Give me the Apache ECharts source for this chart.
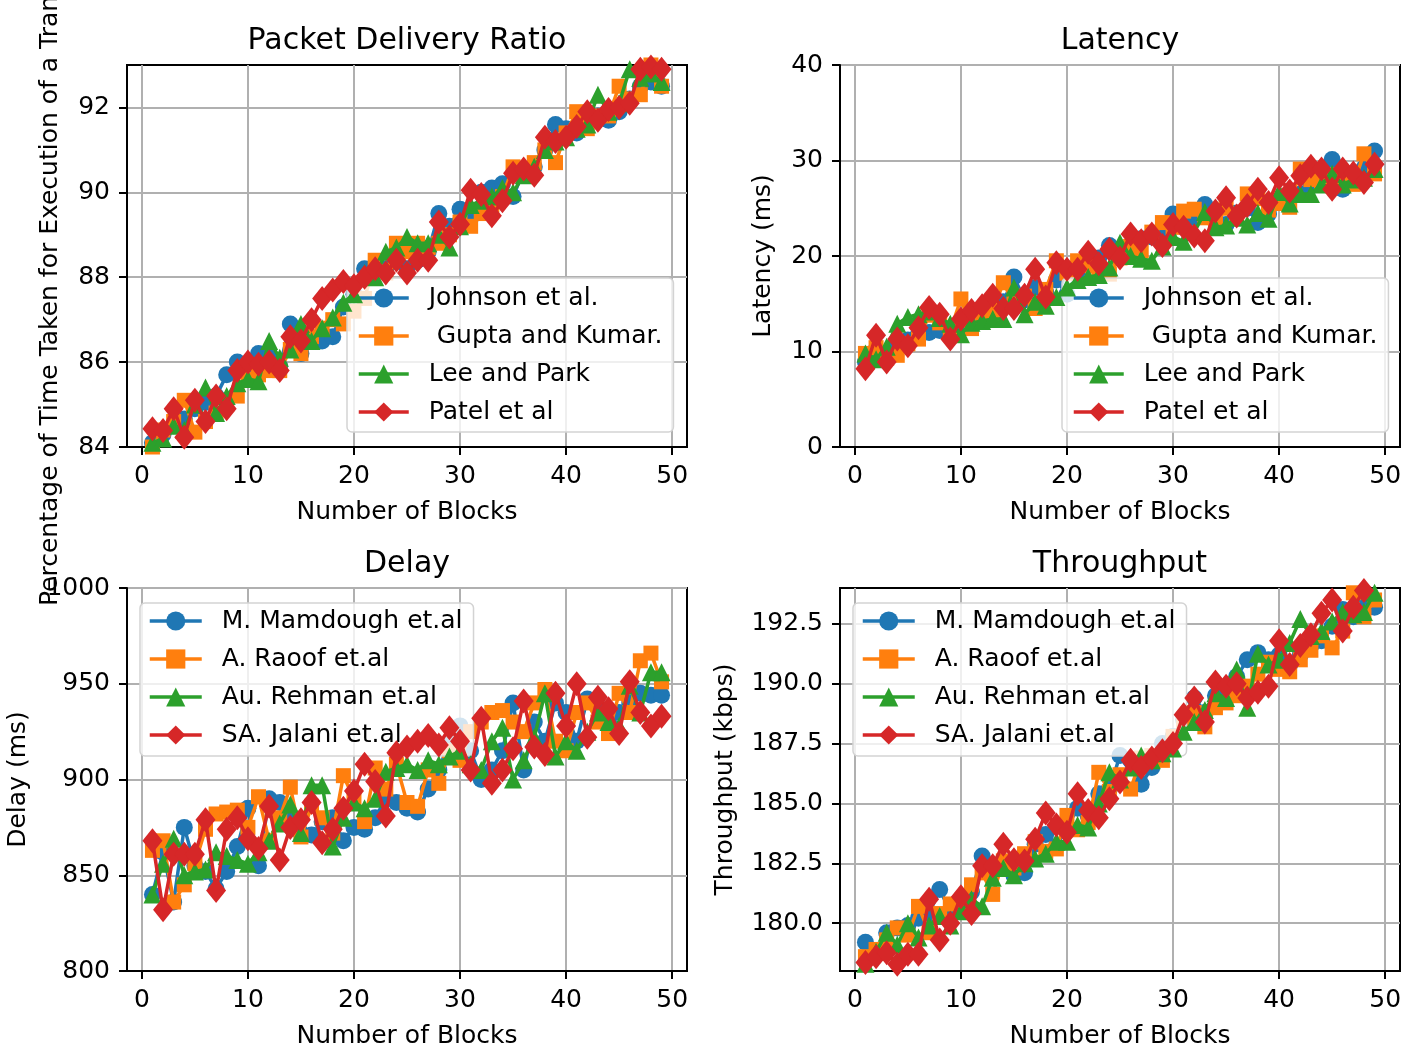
<!DOCTYPE html>
<html lang="en">
  <head>
    <meta charset="UTF-8" />
    <title>Blockchain metrics</title>
    <script src="https://cdn.jsdelivr.net/npm/echarts@6/dist/echarts.min.js"></script>
    <style>
      html, body { margin: 0; padding: 0; background: #fff; }
      #chart { width: 1415px; height: 1050px; }
    </style>
  </head>
  <body>
    <div id="chart"></div>
    <script>
      // x values (number of blocks)
      const blocks = [1, 2, 3, 4, 5, 6, 7, 8, 9, 10, 11, 12, 13, 14, 15, 16, 17, 18, 19, 20, 21, 22, 23, 24, 25,
        26, 27, 28, 29, 30, 31, 32, 33, 34, 35, 36, 37, 38, 39, 40, 41, 42, 43, 44, 45, 46, 47, 48, 49];

      const xTicks = [0, 10, 20, 30, 40, 50];
      const pdrTicks = [84, 86, 88, 90, 92];
      const latTicks = [0, 10, 20, 30, 40];
      const delayTicks = [800, 850, 900, 950, 1000];
      const thrTicks = [180, 182.5, 185, 187.5, 190, 192.5];

      const topNames = ['Johnson et al.', ' Gupta and Kumar.', 'Lee and Park', 'Patel et al'];
      const bottomNames = ['M. Mamdough et.al', 'A. Raoof et.al', 'Au. Rehman et.al', 'SA. Jalani et.al'];

      // Packet Delivery Ratio
      const pdrJohnson = [84.1, 84.3, 84.5, 84.66, 84.9, 85.05, 85.2, 85.7, 86.0, 85.9, 86.2, 86.1, 85.9, 86.9, 86.2,
        86.5, 86.5, 86.6, 87.3, 87.6, 88.2, 88.2, 88.2, 88.5, 88.2, 88.4, 88.6, 89.5, 89.2, 89.6, 89.4, 90.0, 90.1,
        90.2, 89.9, 90.5, 90.6, 91.0, 91.6, 91.5, 91.4, 91.7, 91.8, 91.7, 91.9, 92.2, 92.5, 92.6, 92.5];
      const pdrGupta = [84.0, 84.4, 84.6, 85.1, 84.35, 84.6, 84.8, 85.0, 85.2, 85.6, 85.7, 85.8, 85.8, 86.3, 86.2,
        86.6, 86.8, 87.0, 86.9, 87.2, 87.5, 88.4, 88.1, 88.8, 88.6, 88.8, 88.7, 88.8, 89.0, 89.3, 89.2, 89.5, 89.7,
        89.9, 90.6, 90.5, 90.7, 91.0, 90.7, 91.4, 91.9, 91.5, 91.8, 91.8, 92.5, 92.2, 92.3, 93.0, 92.5];
      const pdrLee = [84.1, 84.2, 84.5, 84.4, 85.0, 85.4, 84.8, 85.2, 85.5, 85.6, 85.55, 86.5, 86.1, 86.3, 86.9,
        86.5, 86.8, 87.05, 87.4, 87.6, 88.1, 88.0, 88.6, 88.7, 88.95, 88.8, 88.8, 89.0, 88.7, 89.2, 89.7, 89.8, 89.9,
        90.1, 90.0, 90.4, 90.6, 91.0, 91.2, 91.3, 91.5, 91.6, 92.3, 91.9, 92.1, 92.9, 92.7, 92.8, 92.6];
      const pdrPatel = [84.43, 84.39, 84.9, 84.23, 85.1, 84.6, 85.2, 84.9, 85.8, 86.0, 85.95, 86.0, 85.8, 86.6, 86.5,
        87.0, 87.5, 87.7, 87.9, 87.8, 88.0, 88.2, 88.1, 88.4, 88.1, 88.4, 88.4, 89.3, 88.95, 89.25, 90.05, 89.95, 89.45,
        89.8, 90.45, 90.55, 90.4, 91.3, 91.2, 91.3, 91.55, 91.9, 91.7, 91.95, 92.0, 92.1, 92.9, 92.95, 92.9];

      // Latency (ms)
      const latJohnson = [8.9, 10.2, 9.4, 10.5, 11.2, 11.8, 12.0, 12.2, 11.6, 12.8, 13.5, 14.0, 14.6, 15.2, 17.8,
        15.4, 16.7, 16.2, 17.5, 16.0, 18.4, 19.0, 19.8, 21.1, 20.5, 21.0, 21.8, 22.0, 22.5, 24.4, 23.8, 24.0, 25.4,
        24.6, 23.3, 24.5, 25.0, 23.5, 24.4, 25.6, 26.0, 26.5, 27.3, 28.2, 30.1, 27.0, 28.6, 29.2, 31.0];
      const latGupta = [9.8, 10.4, 9.3, 9.6, 10.8, 11.3, 13.8, 13.0, 12.2, 15.5, 12.4, 13.8, 14.2, 17.2, 15.0,
        15.8, 14.5, 16.5, 19.5, 18.2, 19.5, 19.0, 18.7, 18.1, 19.8, 21.0, 20.5, 22.5, 23.5, 23.0, 24.7, 24.9, 24.0,
        23.8, 25.0, 24.2, 26.5, 26.0, 24.8, 25.5, 25.1, 29.1, 28.0, 27.5, 28.5, 28.0, 27.5, 30.7, 28.6];
      const latLee = [9.8, 9.2, 10.5, 12.9, 13.6, 13.9, 14.2, 13.5, 12.9, 11.8, 13.0, 13.2, 13.4, 13.4, 16.7,
        13.9, 15.2, 14.8, 15.7, 16.7, 17.5, 17.8, 18.0, 18.8, 21.4, 20.0, 19.7, 19.5, 21.0, 22.0, 21.5, 22.5, 24.6,
        23.0, 23.2, 24.0, 23.3, 24.5, 23.9, 26.7, 25.5, 26.5, 26.5, 27.5, 28.6, 27.5, 28.0, 28.2, 29.1];
      const latPatel = [8.2, 11.7, 8.9, 11.3, 10.6, 12.5, 14.6, 13.9, 11.3, 13.4, 14.3, 14.8, 15.9, 14.5, 14.5,
        15.9, 18.6, 15.7, 19.3, 18.6, 18.6, 20.4, 19.2, 20.7, 19.8, 22.3, 21.6, 22.3, 21.1, 23.3, 23.0, 22.1, 21.6,
        24.7, 26.1, 24.2, 25.3, 27.0, 25.6, 28.2, 26.8, 28.4, 29.4, 29.1, 27.0, 29.1, 28.7, 27.7, 29.6];

      // Delay (ms)
      const delMamdough = [840, 862, 836, 875, 855, 852, 843, 852, 865, 885, 855, 890, 888, 880, 872, 871, 878, 880,
        868, 875, 874, 880, 890, 888, 885, 883, 895, 905, 920, 928, 915, 900, 905, 915, 940, 905, 930, 920, 940, 935,
        920, 942, 938, 930, 935, 940, 945, 944, 944];
      const delRaoof = [863, 868, 836, 845, 856, 874, 882, 883, 884, 875, 891, 868, 880, 896, 870, 886, 880, 872,
        902, 890, 878, 906, 895, 908, 888, 886, 905, 898, 915, 910, 925, 930, 935, 936, 930, 925, 940, 947, 920, 915,
        935, 940, 930, 924, 945, 935, 962, 966, 951];
      const delRehman = [840, 856, 869, 850, 852, 853, 862, 860, 858, 856, 862, 868, 877, 887, 872, 897, 897, 865,
        880, 888, 885, 890, 904, 906, 908, 905, 910, 908, 912, 915, 908, 905, 920, 927, 900, 910, 922, 945, 912, 920,
        915, 925, 935, 930, 928, 949, 935, 956, 956];
      const delJalani = [868, 832, 861, 861, 861, 879, 842, 874, 880, 869, 864, 886, 858, 875, 879, 888, 867, 874,
        885, 894, 908, 899, 881, 914, 917, 920, 923, 918, 927, 920, 905, 932, 898, 905, 916, 941, 917, 913, 945, 928,
        950, 922, 943, 937, 924, 951, 935, 928, 933];

      // Throughput (kbps)
      const thrMamdough = [179.2, 178.7, 179.6, 179.8, 179.9, 180.2, 180.4, 181.4, 180.5, 181.0, 181.3, 182.8, 182.3,
        182.5, 182.0, 182.1, 183.3, 183.7, 183.2, 184.0, 184.8, 184.5, 185.4, 185.6, 187.0, 186.8, 185.8, 186.5, 187.5,
        187.8, 188.5, 189.4, 188.8, 189.5, 189.8, 190.3, 191.0, 191.3, 191.0, 191.2, 190.8, 191.2, 191.6, 191.8, 192.4,
        193.1, 192.8, 193.4, 193.2];
      const thrRaoof = [178.6, 178.9, 179.3, 179.8, 179.5, 180.7, 179.6, 180.4, 180.8, 180.6, 181.6, 182.1, 181.2,
        182.6, 182.3, 182.9, 183.4, 183.0, 183.1, 184.5, 183.9, 184.2, 186.3, 185.5, 186.2, 185.6, 186.9, 187.0, 186.8,
        187.8, 188.4, 188.8, 188.2, 189.0, 189.2, 189.5, 189.9, 190.4, 190.9, 190.6, 190.5, 191.0, 191.4, 192.0, 191.5,
        192.2, 193.8, 192.8, 193.5];
      const thrRehman = [178.3, 178.8, 179.6, 179.1, 180.0, 179.4, 179.9, 180.3, 179.9, 180.5, 181.0, 180.7, 181.9,
        182.3, 182.0, 182.5, 182.7, 182.9, 183.4, 183.4, 184.1, 184.0, 185.0, 186.3, 186.0, 186.5, 187.0, 186.8, 187.1,
        187.3, 188.0, 188.4, 188.9, 189.6, 189.4, 190.6, 189.0, 191.25, 190.8, 191.0, 191.7, 192.7, 192.0, 192.2, 192.6,
        193.0, 192.9, 193.0, 193.8];
      const thrJalani = [178.35, 178.6, 178.76, 178.28, 178.7, 178.7, 181.0, 179.3, 180.0, 181.1, 180.4, 182.4, 182.4,
        183.3, 182.65, 182.6, 183.5, 184.6, 184.1, 183.8, 185.4, 184.7, 184.4, 185.2, 185.9, 186.8, 186.5, 186.9, 187.2,
        187.5, 188.7, 189.4, 188.4, 190.07, 189.9, 190.0, 189.4, 189.65, 189.9, 191.8, 190.8, 191.6, 192.05, 192.95,
        193.5, 192.2, 193.2, 193.9, 194.3];

      const colors = ['#1f77b4', '#ff7f0e', '#2ca02c', '#d62728'];
      const symbols = ['circle', 'rect', 'triangle', 'diamond'];
      const symbolSizes = [17, 15, 18, [20, 25]];
      const font = 'DejaVu Sans';

      const panels = [
        { title: 'Packet Delivery Ratio', names: topNames, data: [pdrJohnson, pdrGupta, pdrLee, pdrPatel],
          min: 84, max: 93, ticks: pdrTicks, digits: 0,
          yName: 'Percentage of Time Taken for Execution of a Transaction', yGap: 64,
          grid: { left: 127, top: 65 }, legend: { left: 347, top: 278, pad: [6, 11, 6, 10], w: 50 } },
        { title: 'Latency', names: topNames, data: [latJohnson, latGupta, latLee, latPatel],
          min: 0, max: 40, ticks: latTicks, digits: 0, yName: 'Latency (ms)', yGap: 64,
          grid: { left: 840, top: 65 }, legend: { left: 1062, top: 278, pad: [6, 11, 6, 10], w: 50 } },
        { title: 'Delay', names: bottomNames, data: [delMamdough, delRaoof, delRehman, delJalani],
          min: 800, max: 1000, ticks: delayTicks, digits: 0, yName: 'Delay (ms)', yGap: 96,
          grid: { left: 127, top: 588 }, legend: { left: 140, top: 603, pad: [4, 11, 7, 8], w: 52 } },
        { title: 'Throughput', names: bottomNames, data: [thrMamdough, thrRaoof, thrRehman, thrJalani],
          min: 178, max: 194, ticks: thrTicks, digits: 1, yName: 'Throughput (kbps)', yGap: 102,
          grid: { left: 840, top: 588 }, legend: { left: 853, top: 603, pad: [4, 11, 7, 8], w: 52 } }
      ];

      const axisText = { fontFamily: font, fontSize: 25, color: '#000' };

      const option = {
        animation: false,
        textStyle: { fontFamily: font },
        title: [],
        grid: [],
        xAxis: [],
        yAxis: [],
        legend: [],
        series: []
      };

      panels.forEach((p, i) => {
        option.title.push({
          text: p.title,
          left: p.grid.left + 280,
          top: p.grid.top - 39,
          textAlign: 'center',
          padding: 0,
          textStyle: { fontFamily: font, fontSize: 30, fontWeight: 'normal', color: '#000' }
        });
        option.grid.push({
          left: p.grid.left, top: p.grid.top, width: 560, height: i < 2 ? 382 : 383,
          outerBoundsMode: 'none', containLabel: false,
          show: true, borderColor: '#000', borderWidth: 2, backgroundColor: '#fff'
        });
        option.xAxis.push({
          type: 'value', gridIndex: i, min: -1.4, max: 51.4,
          name: 'Number of Blocks', nameLocation: 'middle', nameGap: 53, nameTextStyle: axisText,
          axisLine: { show: true, onZero: false, lineStyle: { color: '#000', width: 2 } },
          axisTick: { show: true, length: 8, customValues: xTicks, lineStyle: { color: '#000', width: 2 } },
          axisLabel: { customValues: xTicks, margin: 17, ...axisText },
          splitLine: { show: true, lineStyle: { color: '#b0b0b0', width: 2 } }
        });
        option.yAxis.push({
          type: 'value', gridIndex: i, min: p.min, max: p.max,
          name: p.yName, nameLocation: 'middle', nameGap: p.yGap, nameTextStyle: axisText,
          axisLine: { show: true, onZero: false, lineStyle: { color: '#000', width: 2 } },
          axisTick: { show: true, length: 8, customValues: p.ticks, lineStyle: { color: '#000', width: 2 } },
          axisLabel: { customValues: p.ticks, margin: 17, ...axisText,
            formatter: v => v.toFixed(p.digits) },
          splitLine: { show: true, lineStyle: { color: '#b0b0b0', width: 2 } }
        });
        option.legend.push({
          orient: 'vertical',
          left: p.legend.left, top: p.legend.top,
          padding: p.legend.pad,
          itemWidth: p.legend.w, itemHeight: 24, itemGap: 10,
          selectedMode: false,
          backgroundColor: 'rgba(255,255,255,0.8)',
          borderColor: '#d3d3d3', borderWidth: 1.5, borderRadius: 5,
          lineStyle: { width: 3.5 },
          textStyle: { fontFamily: font, fontSize: 25, color: '#000', lineHeight: 28, padding: [0, 0, 0, 15] },
          data: p.names
        });
        p.data.forEach((vals, k) => {
          option.series.push({
            type: 'line',
            name: p.names[k],
            xAxisIndex: i, yAxisIndex: i,
            data: blocks.map((b, j) => [b, vals[j]]),
            symbol: symbols[k],
            symbolSize: symbolSizes[k],
            showAllSymbol: true,
            color: colors[k],
            lineStyle: { width: 3.5, color: colors[k] },
            itemStyle: { color: colors[k] },
            clip: true,
            z: 2 + k
          });
        });
      });

      const chart = echarts.init(document.getElementById('chart'));
      chart.setOption(option);
    </script>
  </body>
</html>
